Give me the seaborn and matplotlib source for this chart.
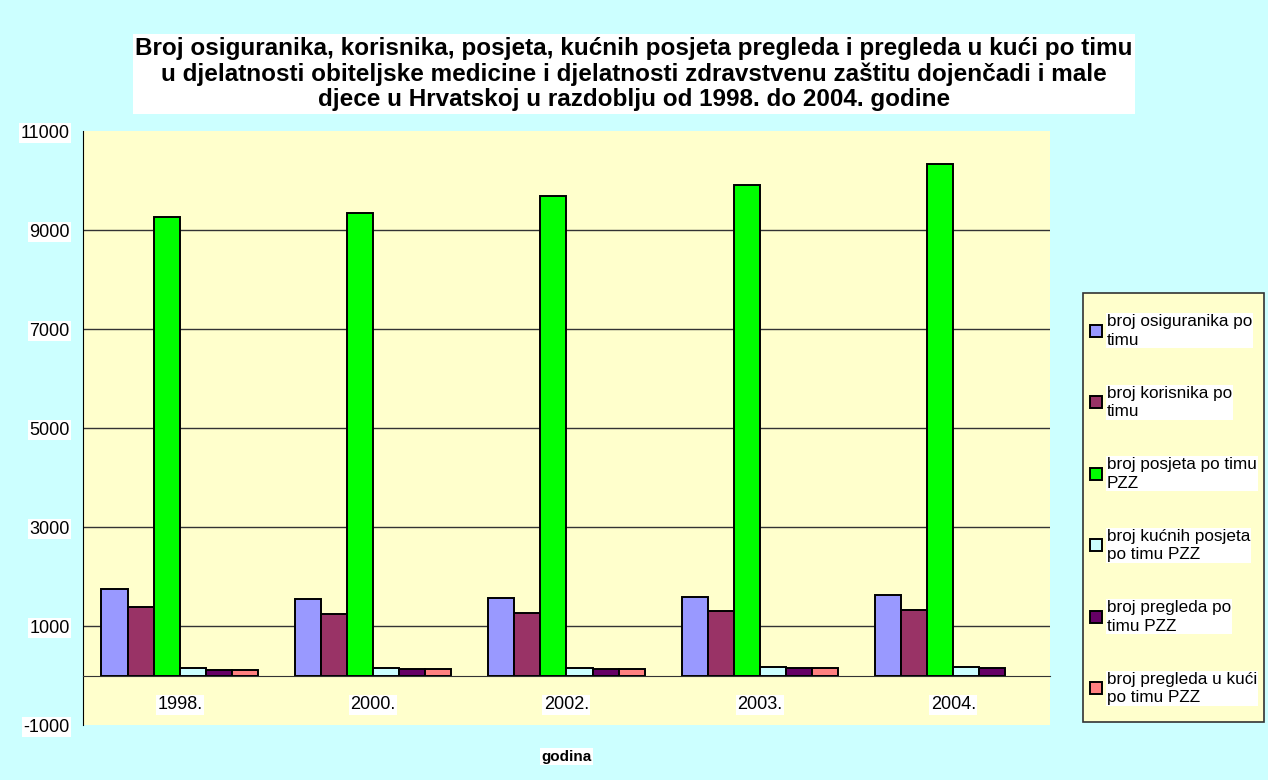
import numpy as np
import pandas as pd
import matplotlib
matplotlib.use("Agg")
import matplotlib.pyplot as plt
import seaborn as sns
from matplotlib.patches import Rectangle

# values
years = ["1998.", "2000.", "2002.", "2003.", "2004."]
series = [
    "broj osiguranika po\ntimu",
    "broj korisnika po\ntimu",
    "broj posjeta po timu\nPZZ",
    "broj kućnih posjeta\npo timu PZZ",
    "broj pregleda po\ntimu PZZ",
    "broj pregleda u kući\npo timu PZZ",
]
osiguranika = [1750, 1545, 1565, 1595, 1620]
korisnika = [1385, 1235, 1270, 1295, 1315]
posjeta = [9270, 9350, 9690, 9915, 10335]
kucnih_posjeta = [150, 160, 160, 168, 175]
pregleda = [115, 135, 140, 148, 155]
pregleda_u_kuci = [110, 135, 140, 148, np.nan]
colors = ["#9999FF", "#993366", "#00FF00", "#CCFFFF", "#660066", "#FF8080"]
gridlines = [1000, 3000, 5000, 7000, 9000]

values = [osiguranika, korisnika, posjeta, kucnih_posjeta, pregleda, pregleda_u_kuci]
rows = []
for name, vals in zip(series, values):
    for yr, v in zip(years, vals):
        rows.append({"godina": yr, "serija": name, "vrijednost": v})
df = pd.DataFrame(rows)

sns.set_style("white")
plt.rcParams["font.family"] = ["Liberation Sans", "DejaVu Sans"]
plt.rcParams["axes.unicode_minus"] = False
plt.rcParams["text.color"] = "black"
plt.rcParams["xtick.color"] = "black"
plt.rcParams["ytick.color"] = "black"

W, H = 1268, 780
fig = plt.figure(figsize=(W / 100, H / 100), dpi=100, facecolor="#CCFFFF")
ax = fig.add_axes([0.0655, 0.0705, 0.7625, 0.7615])
ax.set_facecolor("#FFFFCC")

for g in gridlines:
    ax.axhline(g, color="#333333", linewidth=1, zorder=0)

sns.barplot(data=df, x="godina", y="vrijednost", hue="serija", hue_order=series,
            order=years, palette=colors, width=0.81, edgecolor="black",
            linewidth=1.4, saturation=1, ax=ax, legend=True)

ax.set_ylim(-1000, 11000)
ax.set_xlim(-0.5, len(years) - 0.5)
ax.set_yticks(np.arange(-1000, 11001, 2000))
for lbl in ax.get_yticklabels():
    lbl.set_fontsize(13)
    lbl.set_bbox(dict(facecolor="white", edgecolor="none", pad=1))
ax.tick_params(axis="y", length=5, width=1, color="black", direction="out", pad=4.5)

# x axis sits on zero, ticks between the groups
ax.spines["bottom"].set_position(("data", 0))
ax.spines["bottom"].set_color("#333333")
ax.spines["top"].set_visible(False)
ax.spines["right"].set_visible(False)
ax.spines["left"].set_color("black")
ax.set_xticks(range(len(years)))
ax.set_xticks(np.arange(-0.5, len(years), 1), minor=True)
ax.tick_params(axis="x", which="major", length=0, pad=15, labelsize=13)
ax.tick_params(axis="x", which="minor", length=6, width=1, color="#333333", direction="out")
for lbl in ax.get_xticklabels():
    lbl.set_bbox(dict(facecolor="white", edgecolor="none", pad=1))

ax.set_ylabel("")
ax.set_xlabel("")
fig.text(0.4467, 0.03, "godina", ha="center", va="center", fontsize=11, fontweight="bold",
         bbox=dict(facecolor="white", edgecolor="none", pad=1))

fig.text(0.5, 0.905,
         "Broj osiguranika, korisnika, posjeta, kućnih posjeta pregleda i pregleda u kući po timu\n"
         "u djelatnosti obiteljske medicine i djelatnosti zdravstvenu zaštitu dojenčadi i male\n"
         "djece u Hrvatskoj u razdoblju od 1998. do 2004. godine",
         ha="center", va="center", fontsize=17.5, fontweight="bold", linespacing=1.12,
         bbox=dict(facecolor="white", edgecolor="none", pad=2))

# legend box drawn separately so the padding can match the reference
fig.patches.append(Rectangle((1083 / W, 1 - 722 / H), 181 / W, 429 / H,
                             transform=fig.transFigure, facecolor="#FFFFCC",
                             edgecolor="#333333", linewidth=1.2, zorder=0))

handles, labels = ax.get_legend_handles_labels()
ax.legend_.remove()
leg = fig.legend(handles, labels, loc="upper left",
                 bbox_to_anchor=(1090 / W, 1 - 314 / H),
                 frameon=False, fontsize=12.3, handlelength=0.7, handleheight=0.7,
                 handletextpad=0.3, labelspacing=2.22, borderpad=0,
                 borderaxespad=0)
for t in leg.get_texts():
    t.set_linespacing(1.3)
    t.set_bbox(dict(facecolor="white", edgecolor="none", pad=0.5))

fig.savefig("out.png", dpi=100, facecolor=fig.get_facecolor())
